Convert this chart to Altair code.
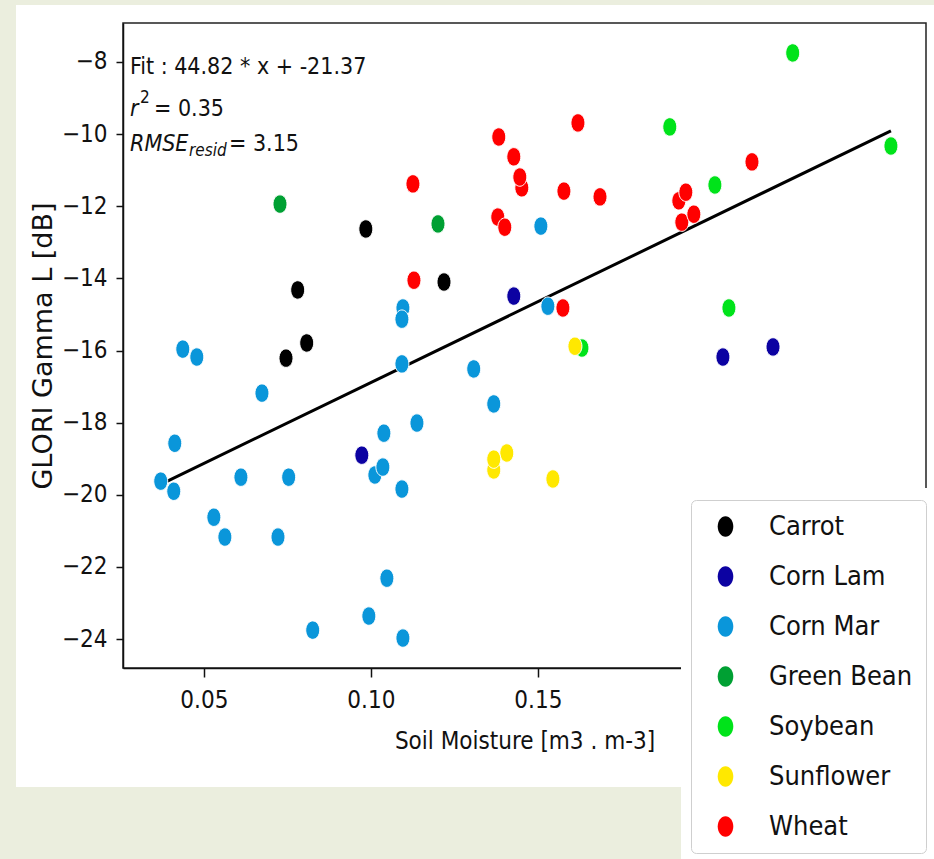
import altair as alt
import pandas as pd

# ---------------- data ----------------
categories = ["Carrot", "Corn Lam", "Corn Mar", "Green Bean", "Soybean", "Sunflower", "Wheat"]
colors = ["#000000", "#0c02a2", "#0a96da", "#00a033", "#00e31a", "#ffe800", "#ff0000"]

carrot_x = [0.0985, 0.0781, 0.0808, 0.0746, 0.1219]
carrot_y = [-12.63, -14.32, -15.79, -16.21, -14.10]

cornlam_x = [0.0973, 0.1428, 0.2054, 0.2204]
cornlam_y = [-18.90, -14.49, -16.18, -15.90]

cornmar_x = [0.0437, 0.0479, 0.0674, 0.0413, 0.0371, 0.0410, 0.0611, 0.0754, 0.0530,
             0.0563, 0.0722, 0.0826, 0.0994, 0.1039, 0.1012, 0.1036, 0.1048, 0.1368,
             0.1138, 0.1093, 0.1096, 0.1096, 0.1093, 0.1093, 0.1308, 0.1509, 0.1530]
cornmar_y = [-15.96, -16.18, -17.18, -18.57, -19.62, -19.90, -19.51, -19.51, -20.62,
             -21.17, -21.17, -23.75, -23.36, -18.29, -19.45, -19.23, -22.31, -17.48,
             -18.01, -19.84, -23.97, -14.82, -15.13, -16.37, -16.51, -12.55, -14.77]

greenbean_x = [0.0728, 0.1201]
greenbean_y = [-11.94, -12.49]

soybean_x = [0.2263, 0.1895, 0.2557, 0.2030, 0.2072, 0.1632]
soybean_y = [-7.75, -9.80, -10.33, -11.41, -14.82, -15.93]

sunflower_x = [0.1611, 0.1368, 0.1407, 0.1368, 0.1545]
sunflower_y = [-15.88, -19.31, -18.84, -19.01, -19.56]

wheat_x = [0.1620, 0.1383, 0.1428, 0.1452, 0.1446, 0.1126, 0.1578, 0.1686, 0.1380,
           0.1401, 0.1129, 0.1575, 0.2141, 0.1922, 0.1943, 0.1931, 0.1967]
wheat_y = [-9.69, -10.08, -10.63, -11.49, -11.19, -11.38, -11.58, -11.74, -12.30,
           -12.58, -14.05, -14.82, -10.77, -11.85, -11.61, -12.44, -12.22]

fit_slope = 44.82
fit_intercept = -21.37

# 0.20 and 0.25 lie under the legend in the reference, so only these show
x_ticks = [0.05, 0.10, 0.15]
y_ticks = [-24, -22, -20, -18, -16, -14, -12, -10, -8]
x_domain = [0.0258, 0.2662]
y_domain = [-24.80, -6.92]

# ---------------- tables ----------------
series_x = [carrot_x, cornlam_x, cornmar_x, greenbean_x, soybean_x, sunflower_x, wheat_x]
series_y = [carrot_y, cornlam_y, cornmar_y, greenbean_y, soybean_y, sunflower_y, wheat_y]
rows = []
for cat, xs, ys in zip(categories, series_x, series_y):
    for xv, yv in zip(xs, ys):
        rows.append({"crop": cat, "sm": xv, "gamma": yv})
df = pd.DataFrame(rows)

xmin, xmax = df["sm"].min(), df["sm"].max()
line_df = pd.DataFrame({"sm": [xmin, xmax]})
line_df["gamma"] = fit_slope * line_df["sm"] + fit_intercept

# ---------------- style ----------------
W, H = 803, 645
PAD_L, PAD_T, PAD_R, PAD_B = 123, 23, 8, 191
BEIGE = "#ebeede"
FONT = "DejaVu Sans Condensed"
FONT_WIDE = "DejaVu Sans"
ELLIPSE = "M0,-1A0.76,1 0 1,1 0,1A0.76,1 0 1,1 0,-1Z"

xenc = alt.X("sm:Q", scale=alt.Scale(domain=x_domain, nice=False, zero=False),
             axis=alt.Axis(values=x_ticks, format=".2f", title="Soil Moisture [m3 . m-3]",
                           tickSize=9, labelPadding=11, labelBaseline="top",
                           titleX=W / 2, titleY=80, titleAlign="center",
                           titleBaseline="alphabetic", titleFontSize=24, zindex=0))
yenc = alt.Y("gamma:Q", scale=alt.Scale(domain=y_domain, nice=False, zero=False),
             axis=alt.Axis(values=y_ticks, format="d", title="GLORI Gamma L [dB]",
                           tickSize=7, labelPadding=9,
                           titleX=-80, titleY=H / 2, titleAngle=-90, titleAlign="center",
                           titleBaseline="middle", titleFont=FONT_WIDE, titleFontSize=27,
                           zindex=0))

one = alt.Data(values=[{"k": 1}])


def panel(x1, x2, y1, y2, color):
    return alt.Chart(one).mark_rect(color=color, strokeWidth=0).encode(
        x=alt.value(x1), x2=alt.value(x2), y=alt.value(y1), y2=alt.value(y2))


bg_left = panel(-PAD_L, 16 - PAD_L, -PAD_T, 859 - PAD_T, BEIGE)
bg_top = panel(-PAD_L, 934 - PAD_L, -PAD_T, 5 - PAD_T, BEIGE)
bg_bottom = panel(-PAD_L, 681 - PAD_L, 787 - PAD_T, 859 - PAD_T, BEIGE)
cover = panel(681 - PAD_L, 934 - PAD_L, 488 - PAD_T, 859 - PAD_T, "white")

line = alt.Chart(line_df).mark_line(color="black", strokeWidth=3).encode(x=xenc, y=yenc)

points = alt.Chart(df).mark_point(
    filled=True, shape=ELLIPSE, size=340, opacity=1, stroke="white", strokeWidth=1
).encode(
    x=xenc, y=yenc,
    color=alt.Color("crop:N", scale=alt.Scale(domain=categories, range=colors),
                    legend=alt.Legend(title=None, orient="none", legendX=568, legendY=477,
                                      padding=13, fillColor="white", strokeColor="#cfcfcf",
                                      cornerRadius=5, symbolType=ELLIPSE, symbolSize=420,
                                      symbolStrokeWidth=0, symbolOffset=8,
                                      labelFont=FONT, labelFontSize=27, labelColor="#111",
                                      labelOffset=30, labelLimit=400, rowPadding=22)),
)


def txt(s, x, y, size=23, style="normal"):
    return alt.Chart(one).mark_text(
        text=s, align="left", baseline="alphabetic", font=FONT, fontSize=size,
        fontStyle=style, color="#111"
    ).encode(x=alt.value(x), y=alt.value(y))


annot = [
    txt("Fit : 44.82 * x + -21.37", 7, 51),
    txt("r", 7, 93, style="italic"),
    txt("2", 17, 80, size=17),
    txt("= 0.35", 31, 93),
    txt("RMSE", 7, 128, style="italic"),
    txt("resid", 66, 133, size=17, style="italic"),
    txt("= 3.15", 106, 128),
]

chart = alt.layer(bg_left, bg_top, bg_bottom, cover, line, points, *annot).properties(
    width=W, height=H,
    autosize=alt.AutoSizeParams(type="none"),
    padding={"left": PAD_L, "top": PAD_T, "right": PAD_R, "bottom": PAD_B},
    background="white",
).configure_view(
    stroke="#222222", strokeWidth=1.5
).configure_axis(
    domainColor="#111", domainWidth=1.5, tickColor="#111", tickWidth=1.5,
    labelFont=FONT, labelFontSize=24, labelColor="#111",
    titleFont=FONT, titleFontSize=24, titleColor="#111", titleFontWeight="normal",
    grid=False,
)

chart.save("out.html", embed_options={"renderer": "svg", "actions": False})
